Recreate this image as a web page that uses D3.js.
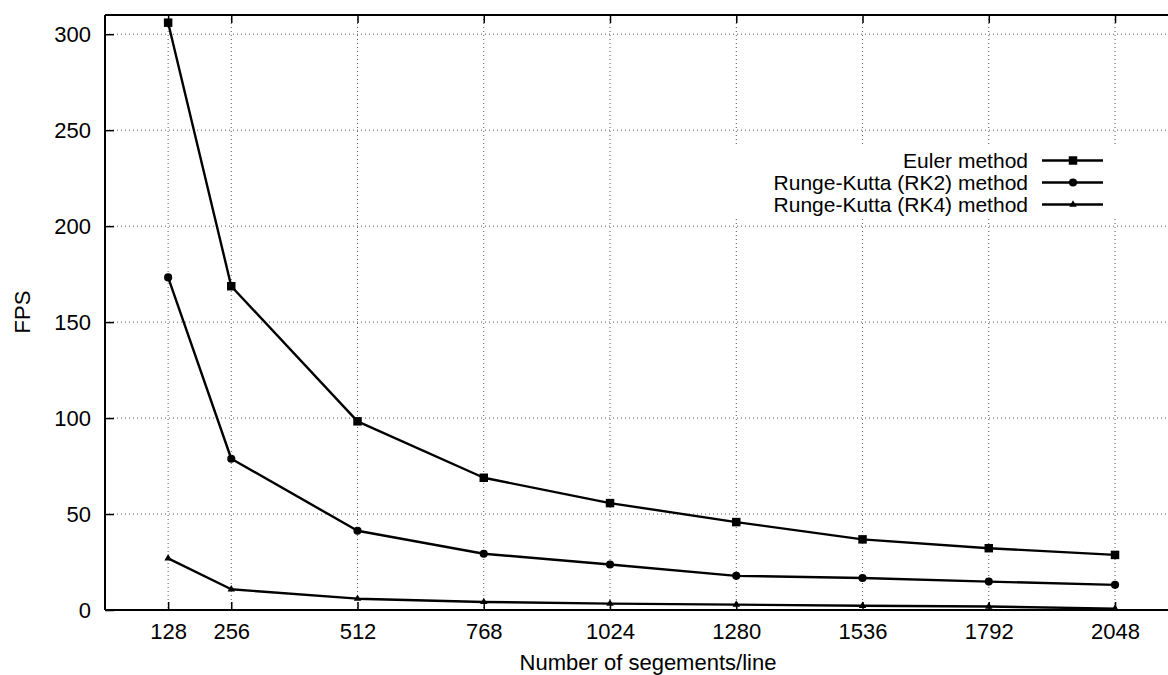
<!DOCTYPE html>
<html>
<head>
<meta charset="utf-8">
<script src="https://cdn.jsdelivr.net/npm/d3@7"></script>
<style>
  html, body { margin: 0; padding: 0; background: #fff; }
  svg { display: block; font-family: "Liberation Sans", Arial, Helvetica, sans-serif; }
</style>
</head>
<body>
<svg id="chart" width="1168" height="675"></svg>
<script>
const segments = [128, 256, 512, 768, 1024, 1280, 1536, 1792, 2048];
const eulerFPS = [306, 168.7, 98.3, 68.9, 55.7, 45.8, 36.8, 32.2, 28.7];
const rk2FPS   = [173.3, 78.8, 41.3, 29.3, 23.7, 17.8, 16.7, 14.8, 13.1];
const rk4FPS   = [26.9, 10.8, 5.9, 4.2, 3.3, 2.8, 2.2, 1.8, 0.7];
const yTicks = [0, 50, 100, 150, 200, 250, 300];
const seriesNames = ["Euler method", "Runge-Kutta (RK2) method", "Runge-Kutta (RK4) method"];
const seriesMarkers = ["square", "circle", "triangle"];

(function () {
const svg = d3.select("#chart");
const W = 1168;
const pLeft = 105, pTop = 15, pBottom = 610, pRight = 1190;

const x = d3.scaleLinear().domain([0, 2200]).range([pLeft, pRight]);
const y = d3.scaleLinear().domain([0, 310]).range([pBottom, pTop]);

const fontSize = 22;
const legendFont = 21;

// grid
const grid = svg.append("g");
grid.selectAll(".vg").data(segments).enter().append("line")
  .attr("x1", d => x(d)).attr("x2", d => x(d))
  .attr("y1", pTop).attr("y2", pBottom)
  .attr("stroke", "#555").attr("stroke-width", 1).attr("stroke-dasharray", "1,3");
grid.selectAll(".hg").data(yTicks.filter(d => d > 0)).enter().append("line")
  .attr("x1", pLeft).attr("x2", pRight)
  .attr("y1", d => y(d)).attr("y2", d => y(d))
  .attr("stroke", "#555").attr("stroke-width", 1).attr("stroke-dasharray", "1,3");

// legend background (opaque key)
svg.append("rect").attr("x", 722).attr("y", 146).attr("width", 406).attr("height", 71).attr("fill", "#fff");

// axes (bottom/left) with inward ticks
const xAxis = d3.axisBottom(x).tickValues(segments).tickSize(-8).tickPadding(14).tickFormat(d3.format("d"));
const gx = svg.append("g").attr("transform", `translate(0,${pBottom})`).call(xAxis);
const yAxis = d3.axisLeft(y).tickValues(yTicks).tickSize(-9).tickPadding(14).tickFormat(d3.format("d"));
const gy = svg.append("g").attr("transform", `translate(${pLeft},0)`).call(yAxis);
const gxt = svg.append("g").attr("transform", `translate(0,${pTop})`)
  .call(d3.axisTop(x).tickValues(segments).tickSize(-8).tickFormat(""));

[gx, gy, gxt].forEach(g => {
  g.select(".domain").attr("stroke", "#000").attr("stroke-width", 2);
  g.selectAll(".tick line").attr("stroke", "#000").attr("stroke-width", 1.5);
  g.selectAll("text").attr("font-size", fontSize).attr("fill", "#000")
    .attr("font-family", "Liberation Sans, Arial, sans-serif");
});
gx.select(".domain").attr("d", `M${pLeft},0H${W + 20}`);
gxt.select(".domain").attr("d", `M${pLeft},0H${W + 20}`);
gy.select(".domain").attr("d", `M0,${pBottom}V${pTop}`);
gx.selectAll("text").attr("dy", "0.68em");

// axis labels
svg.append("text").attr("x", 648).attr("y", 670).attr("text-anchor", "middle")
  .attr("font-size", fontSize).text("Number of segements/line");
svg.append("text").attr("transform", "translate(30,312) rotate(-90)")
  .attr("text-anchor", "middle").attr("font-size", fontSize).text("FPS");

// series
const allSeries = [eulerFPS, rk2FPS, rk4FPS];
const line = d3.line().x(d => x(d[0])).y(d => y(d[1]));
const symbolFor = {
  square: d3.symbol().type(d3.symbolSquare).size(72),
  circle: d3.symbol().type(d3.symbolCircle).size(52),
  triangle: d3.symbol().type(d3.symbolTriangle).size(24)
};

allSeries.forEach((vals, i) => {
  const pts = segments.map((s, j) => [s, vals[j]]);
  svg.append("path").datum(pts).attr("d", line)
    .attr("fill", "none").attr("stroke", "#000").attr("stroke-width", 2.4).attr("stroke-linejoin", "round");
  svg.append("g").selectAll("path").data(pts).enter().append("path")
    .attr("d", symbolFor[seriesMarkers[i]]())
    .attr("transform", d => `translate(${x(d[0])},${y(d[1])})`)
    .attr("fill", "#000");
});

// legend
const legendRows = [160.5, 182.5, 204.5];
seriesNames.forEach((name, i) => {
  const cy = legendRows[i];
  svg.append("text").attr("x", 1028).attr("y", cy).attr("dy", "0.36em")
    .attr("text-anchor", "end").attr("font-size", legendFont).text(name);
  svg.append("line").attr("x1", 1042).attr("x2", 1103).attr("y1", cy).attr("y2", cy)
    .attr("stroke", "#000").attr("stroke-width", 2.4);
  svg.append("path").attr("d", symbolFor[seriesMarkers[i]]())
    .attr("transform", `translate(1073,${cy})`).attr("fill", "#000");
});
})();
</script>
</body>
</html>
